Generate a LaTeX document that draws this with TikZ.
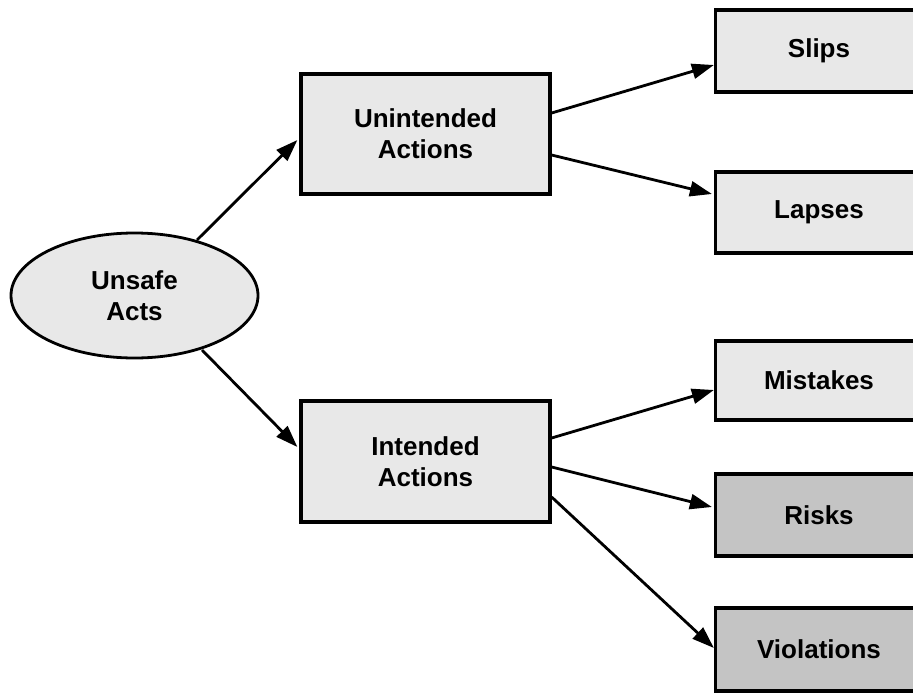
\documentclass[tikz,border=0pt]{standalone}
\usepackage{fontspec}
\setmainfont{Liberation Sans}
\usetikzlibrary{shapes.geometric,arrows.meta,calc}
\definecolor{lightfill}{RGB}{232,232,232}
\definecolor{darkfill}{RGB}{196,196,196}
\begin{document}
\begin{tikzpicture}[x=1pt,y=-1pt,
  every node/.style={font=\fontsize{26}{31}\selectfont\bfseries, align=center, inner sep=0pt},
  boxlight/.style={draw=black, line width=3.2pt, fill=lightfill, rectangle},
  boxdark/.style={draw=black, line width=3.2pt, fill=darkfill, rectangle},
  oval/.style={draw=black, line width=2.8pt, fill=lightfill, ellipse, minimum width=247pt, minimum height=125pt},
  arr/.style={line width=2.8pt, -{Triangle[length=22pt,width=15pt]}}]
\useasboundingbox (0,0) rectangle (913,693);
\clip (0,0) rectangle (913,693);
\node[oval] (ua) at (134.5,295.5) {Unsafe\\Acts};
\node[boxlight, minimum width=249pt, minimum height=120pt] (un) at (425.5,134) {Unintended\\Actions};
\node[boxlight, minimum width=249pt, minimum height=121pt] (in) at (425.5,461.5) {Intended\\Actions};
\node[boxlight, minimum width=207pt, minimum height=82pt] (sl) at (819,51) {Slips};
\node[boxlight, minimum width=207pt, minimum height=81pt] (la) at (819,212.5) {Lapses};
\node[boxlight, minimum width=207pt, minimum height=79pt] (mi) at (819,380.5) {Mistakes};
\node[boxdark, minimum width=207pt, minimum height=82pt] (ri) at (819,515) {Risks};
\node[boxdark, minimum width=207pt, minimum height=83pt] (vi) at (819,649.5) {Violations};
\coordinate (uaN) at (197,240);
\coordinate (uaS) at (202,350);
\draw[arr] (uaN) -- ($(un.west)+(-2,6)$);
\draw[arr] (uaS) -- ($(in.west)+(-2,-14.5)$);
\draw[arr] ($(un.east)+(0,-21)$) -- ($(sl.west)+(0,14)$);
\draw[arr] ($(un.east)+(0,21)$) -- ($(la.west)+(-2,-18.5)$);
\draw[arr] ($(in.east)+(0,-23.5)$) -- ($(mi.west)+(0,9.5)$);
\draw[arr] ($(in.east)+(0,5.5)$) -- ($(ri.west)+(-2,-8)$);
\draw[arr] ($(in.east)+(0,35.5)$) -- ($(vi.west)+(0,-1.5)$);
\end{tikzpicture}
\end{document}
